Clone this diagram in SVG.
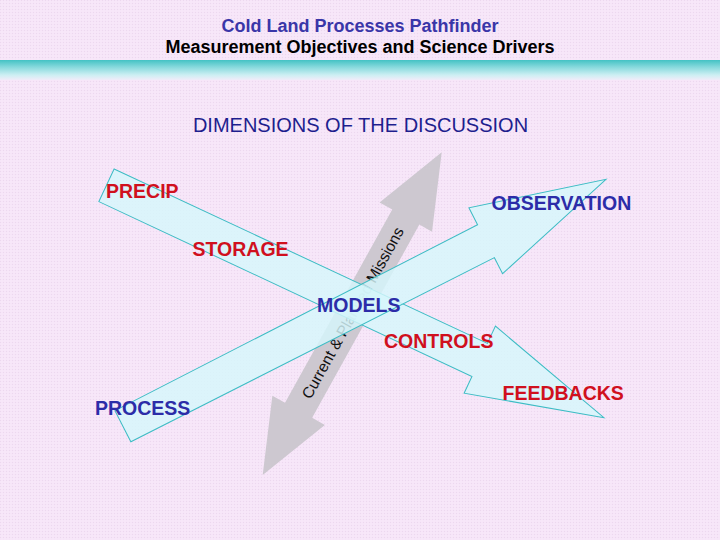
<svg xmlns="http://www.w3.org/2000/svg" width="720" height="540" viewBox="0 0 720 540">
<defs>
<pattern id="dots" width="3" height="3" patternUnits="userSpaceOnUse">
<rect width="3" height="3" fill="#f6e5f8"/>
<rect x="0" y="0" width="1" height="1" fill="#ecd8ef"/>
<rect x="1.5" y="1.5" width="1" height="1" fill="#fbeefc"/>
</pattern>
<linearGradient id="band" x1="0" y1="0" x2="0" y2="1">
<stop offset="0" stop-color="#44c2c4"/>
<stop offset="0.35" stop-color="#86d9dc"/>
<stop offset="0.75" stop-color="#cdeff3"/>
<stop offset="1" stop-color="#f1ecf9"/>
</linearGradient>
<style>
.t{font-family:"Liberation Sans",Arial,sans-serif;font-weight:bold}
.lbl{font-family:"Liberation Sans",Arial,sans-serif;font-weight:bold;font-size:19.5px}
.red{fill:#d0101e}
.blue{fill:#2c2ca8}
.cyan{fill:#d6f6fb;fill-opacity:0.82;stroke:#3cbcc4;stroke-width:1}
.gray{fill:#cdc8d0}
</style>
</defs>
<rect width="720" height="540" fill="url(#dots)"/>
<rect x="0" y="60" width="720" height="20" fill="url(#band)"/>
<g id="title">
<text class="t" x="360" y="31.5" font-size="18" text-anchor="middle" fill="#3a36a8">Cold Land Processes Pathfinder</text>
<text class="t" x="360" y="52.5" font-size="18" text-anchor="middle" fill="#000">Measurement Objectives and Science Drivers</text>
</g>
<g id="heading">
<text x="360.5" y="132" font-family="'Liberation Sans',Arial,sans-serif" font-size="20" text-anchor="middle" fill="#1e1e8e">DIMENSIONS OF THE DISCUSSION</text>
</g>
<g id="connectors">
<g id="missions-arrow" transform="translate(352.2,313.7) rotate(-60.98)">
<polygon class="gray" points="-184.5,0 -110.5,-30 -110.5,-15.5 110.5,-15.5 110.5,-30 184.5,0 110.5,30 110.5,15.5 -110.5,15.5 -110.5,30"/>
<text x="1" y="5.5" font-family="'Liberation Sans',Arial,sans-serif" font-size="15.6" text-anchor="middle" fill="#111">Current &amp; Planned Missions</text>
</g>
<polygon id="precip-feedbacks" class="cyan" transform="translate(106.5,185.3) rotate(25.04)" points="0,-18 412,-18 412,-37 549,0 412,37 412,18.5 0,18"/>
<polygon id="process-observation" class="cyan" transform="translate(122.9,426.2) rotate(-27.07)" points="0,-17.5 407.5,-18 407.5,-37 542.5,0 407.5,37 407.5,19 0,17.5"/>
</g>
<g id="precip"><text class="lbl red" x="106" y="197.5">PRECIP</text></g>
<g id="storage"><text class="lbl red" x="192.5" y="255.7">STORAGE</text></g>
<g id="observation"><text class="lbl blue" x="491.5" y="209.5">OBSERVATION</text></g>
<g id="models"><text class="lbl blue" x="317" y="311.5">MODELS</text></g>
<g id="controls"><text class="lbl red" x="384" y="347.5">CONTROLS</text></g>
<g id="feedbacks"><text class="lbl red" x="502.5" y="400">FEEDBACKS</text></g>
<g id="process"><text class="lbl blue" x="95" y="415">PROCESS</text></g>
</svg>
